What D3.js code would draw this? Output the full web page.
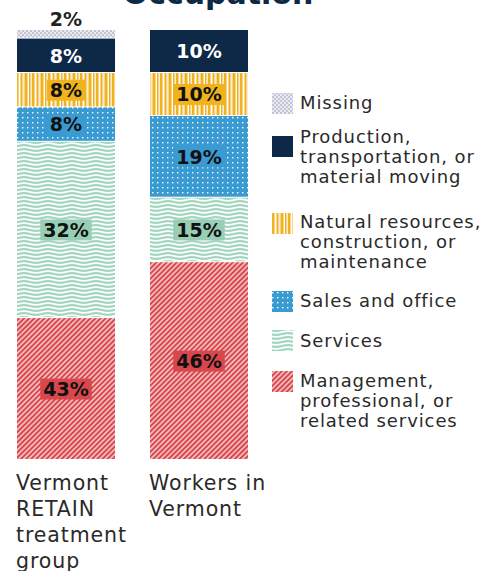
<!DOCTYPE html>
<html>
<head>
<meta charset="utf-8">
<script src="https://cdn.jsdelivr.net/npm/d3@7"></script>
<style>
  body { margin: 0; background: #fff; }
  svg { display: block; font-family: "DejaVu Sans", sans-serif; }
</style>
</head>
<body>
<div id="chart"></div>
<script>
// groups on the x axis (label lines)
const categories = ['retain', 'vermont'];
const categoryLines = [
  ['Vermont', 'RETAIN', 'treatment', 'group'],
  ['Workers in', 'Vermont']
];

// occupations, bottom of the stack to top
const occupations = ['mgmt', 'services', 'sales', 'natural', 'production', 'missing'];
const legendLines = [
  ['Management,', 'professional, or', 'related services'],
  ['Services'],
  ['Sales and office'],
  ['Natural resources,', 'construction, or', 'maintenance'],
  ['Production,', 'transportation, or', 'material moving'],
  ['Missing']
];

// segment sizes as drawn in the source (its bottom two RETAIN segments
// are drawn at ~33 / ~41 while printed as 43% / 32%)
const retainShares = [33, 41, 8, 8, 8, 2];
const vermontShares = [46, 15, 19, 10, 10, 0];
// printed labels
const retainLabels = ['43%', '32%', '8%', '8%', '8%', '2%'];
const vermontLabels = ['46%', '15%', '19%', '10%', '10%', ''];

const width = 487, height = 571;
const margin = {top: 30, bottom: 111, left: 17};

const svg = d3.select('#chart').append('svg')
  .attr('width', width)
  .attr('height', height);

// ---- patterns
const defs = svg.append('defs');

const pMissing = defs.append('pattern').attr('id', 'p-missing')
  .attr('width', 4).attr('height', 4).attr('patternUnits', 'userSpaceOnUse');
pMissing.append('rect').attr('width', 4).attr('height', 4).attr('fill', '#e9eaf0');
pMissing.append('rect').attr('width', 2).attr('height', 2).attr('fill', '#c2c5d5');
pMissing.append('rect').attr('x', 2).attr('y', 2).attr('width', 2).attr('height', 2).attr('fill', '#c2c5d5');

const pNatural = defs.append('pattern').attr('id', 'p-natural')
  .attr('width', 16).attr('height', 4).attr('patternUnits', 'userSpaceOnUse');
pNatural.append('rect').attr('width', 16).attr('height', 4).attr('fill', '#f6d68e');
[[0, 2, '#f1b21c'], [3, 1, '#fff'], [5, 1, '#f1b21c'], [7, 1, '#fbeccb'],
 [9, 2, '#f1b21c'], [12, 1, '#fff'], [13, 1, '#f1b21c'], [15, 1, '#fbeccb']]
  .forEach(([x, w, c]) => pNatural.append('rect')
    .attr('x', x).attr('width', w).attr('height', 4).attr('fill', c));

const pSales = defs.append('pattern').attr('id', 'p-sales')
  .attr('width', 5).attr('height', 5).attr('patternUnits', 'userSpaceOnUse');
pSales.append('rect').attr('width', 5).attr('height', 5).attr('fill', '#3a9bd3');
pSales.append('rect').attr('x', 2).attr('y', 2).attr('width', 1.4).attr('height', 1.4).attr('fill', '#fff');

const pServices = defs.append('pattern').attr('id', 'p-services')
  .attr('width', 24).attr('height', 4).attr('patternUnits', 'userSpaceOnUse');
pServices.append('rect').attr('width', 24).attr('height', 4).attr('fill', '#fff');
pServices.append('path')
  .attr('d', 'M-6 2 Q0 0.3 6 2 T18 2 T30 2')
  .attr('fill', 'none').attr('stroke', '#a2d6bf').attr('stroke-width', 2.2);

const pMgmt = defs.append('pattern').attr('id', 'p-mgmt')
  .attr('width', 3.6).attr('height', 3.6).attr('patternUnits', 'userSpaceOnUse')
  .attr('patternTransform', 'rotate(45)');
pMgmt.append('rect').attr('width', 3.6).attr('height', 3.6).attr('fill', '#f4c7c7');
pMgmt.append('rect').attr('width', 2).attr('height', 3.6).attr('fill', '#d9454b');

const fills = {
  mgmt: 'url(#p-mgmt)',
  services: 'url(#p-services)',
  sales: 'url(#p-sales)',
  natural: 'url(#p-natural)',
  production: '#0e2848',
  missing: 'url(#p-missing)'
};
const labelBg = {
  mgmt: '#d8474c',
  services: '#98ceb3',
  sales: '#3a9bd3',
  natural: '#f0b31e',
  production: '#0e2848',
  missing: 'none'
};

// ---- data & stack
const table = categories.map((c, i) => {
  const row = {category: c};
  const vals = i === 0 ? retainShares : vermontShares;
  const labs = i === 0 ? retainLabels : vermontLabels;
  occupations.forEach((o, j) => { row[o] = vals[j]; row[o + '_label'] = labs[j]; });
  return row;
});

const series = d3.stack().keys(occupations)(table);

const x = d3.scaleBand()
  .domain(categories)
  .range([margin.left, 248])
  .paddingInner(0.263);

const y = d3.scaleLinear()
  .domain([0, 100])
  .range([height - margin.bottom, margin.top]);

// title (clipped at the top of the frame in the source)
svg.append('text')
  .attr('x', 218).attr('y', 4)
  .attr('text-anchor', 'middle')
  .attr('font-size', 30).attr('font-weight', 'bold')
  .attr('fill', '#0e2848')
  .text('Occupation');

const layers = svg.append('g').selectAll('g')
  .data(series)
  .join('g')
  .attr('fill', d => fills[d.key]);

layers.selectAll('rect')
  .data(d => d.map(s => ({key: d.key, s})))
  .join('rect')
  .attr('x', d => x(d.s.data.category))
  .attr('width', x.bandwidth())
  .attr('y', d => y(d.s[1]))
  .attr('height', d => Math.max(0, y(d.s[0]) - y(d.s[1]) - 1));

// value labels
const labels = svg.append('g')
  .attr('font-weight', 'bold')
  .attr('font-size', 19);

series.forEach(ser => {
  ser.forEach(s => {
    const txt = s.data[ser.key + '_label'];
    if (!txt) return;
    const cx = x(s.data.category) + x.bandwidth() / 2;
    if (ser.key === 'missing') {
      labels.append('text')
        .attr('x', cx).attr('y', y(s[1]) - 4)
        .attr('text-anchor', 'middle')
        .attr('fill', '#222')
        .text(txt);
      return;
    }
    const cy = (y(s[0]) + y(s[1])) / 2;
    const g = labels.append('g');
    const t = g.append('text')
      .attr('x', cx).attr('y', cy)
      .attr('dy', '0.36em')
      .attr('text-anchor', 'middle')
      .attr('fill', ser.key === 'production' ? '#fff' : '#111')
      .text(txt);
    const bb = t.node().getBBox();
    g.insert('rect', 'text')
      .attr('x', bb.x - 3).attr('y', cy - 10.5)
      .attr('width', bb.width + 6).attr('height', 21)
      .attr('fill', labelBg[ser.key]);
  });
});

// category labels
const catG = svg.append('g')
  .attr('font-size', 20.5)
  .attr('letter-spacing', 0.9)
  .attr('fill', '#2a2a2a');
categories.forEach((c, i) => {
  const t = catG.append('text')
    .attr('x', x(c) - 1)
    .attr('y', 490);
  t.selectAll('tspan')
    .data(categoryLines[i])
    .join('tspan')
    .attr('x', x(c) - 1)
    .attr('dy', (d, j) => j === 0 ? 0 : 26)
    .text(d => d);
});

// legend (top to bottom, reversed from the stack order)
const legendBaseline = [387, 347, 307, 228, 143, 109];
const swatchTop = [371, 330, 291, 213, 136, 93];
const legend = svg.append('g')
  .attr('font-size', 18)
  .attr('letter-spacing', 0.9)
  .attr('fill', '#2a2a2a');
occupations.forEach((o, i) => {
  legend.append('rect')
    .attr('x', 272).attr('y', swatchTop[i])
    .attr('width', 21).attr('height', 21)
    .attr('fill', fills[o]);
  const t = legend.append('text').attr('y', legendBaseline[i]);
  t.selectAll('tspan')
    .data(legendLines[i])
    .join('tspan')
    .attr('x', 300)
    .attr('dy', (d, j) => j === 0 ? 0 : 20)
    .text(d => d);
});
</script>
</body>
</html>
